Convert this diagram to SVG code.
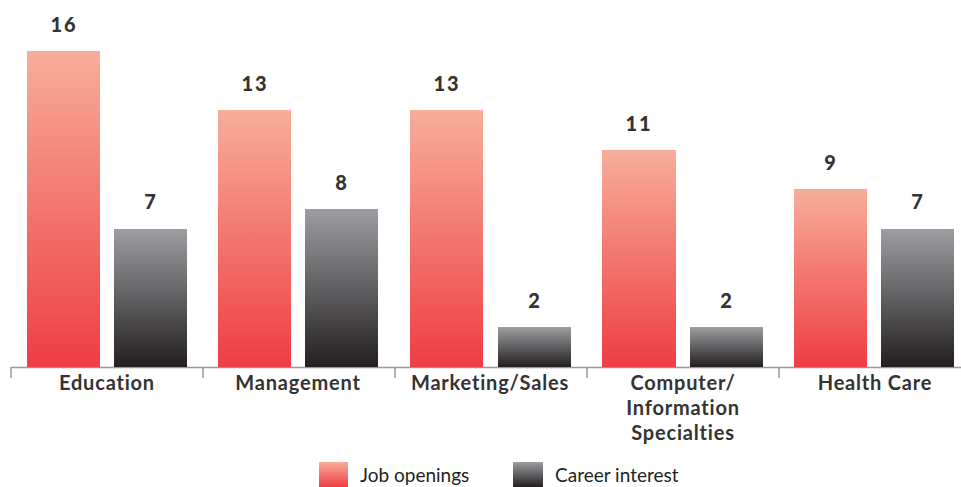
<svg xmlns="http://www.w3.org/2000/svg" width="961" height="487" viewBox="0 0 961 487">
<defs>
<linearGradient id="gRed" x1="0" y1="0" x2="0" y2="1">
<stop offset="0" stop-color="#f7ae9b"/>
<stop offset="1" stop-color="#ee3d43"/>
</linearGradient>
<linearGradient id="gGrey" x1="0" y1="0" x2="0" y2="1">
<stop offset="0" stop-color="#9d9ea2"/>
<stop offset="1" stop-color="#231f20"/>
</linearGradient>
<style>
.red{fill:url(#gRed)}
.grey{fill:url(#gGrey)}
.val{font-family:Lato,"Liberation Sans",sans-serif;font-weight:900;font-size:20px;fill:#333333;text-anchor:middle;letter-spacing:2px}
.cat{font-family:Lato,"Liberation Sans",sans-serif;font-weight:bold;font-size:20px;fill:#333333;text-anchor:middle;letter-spacing:0.8px}
.leg{font-family:Lato,"Liberation Sans",sans-serif;font-size:19px;fill:#231f20}
.axis{stroke:#999999;stroke-width:1.5;fill:none}
</style>
</defs>
<rect width="961" height="487" fill="#ffffff"/>
<g id="axis">
<path class="axis" d="M11,367.5 H961 M11,367 V378 M203,367 V378 M395,367 V378 M587,367 V378 M779,367 V378"/>
</g>
<g id="education">
<rect class="red" x="27" y="51" width="73" height="316"/>
<rect class="grey" x="114" y="229" width="73" height="138"/>
<text class="val" x="64" y="32">16</text>
<text class="val" x="151" y="209">7</text>
<text class="cat" x="107" y="390">Education</text>
</g>
<g id="management">
<rect class="red" x="218" y="110" width="73" height="257"/>
<rect class="grey" x="305" y="209" width="73" height="158"/>
<text class="val" x="255" y="91">13</text>
<text class="val" x="342" y="190">8</text>
<text class="cat" x="298" y="390">Management</text>
</g>
<g id="marketing">
<rect class="red" x="410" y="110" width="73" height="257"/>
<rect class="grey" x="498" y="327" width="73" height="40"/>
<text class="val" x="447" y="91">13</text>
<text class="val" x="535" y="308">2</text>
<text class="cat" x="490" y="390">Marketing/Sales</text>
</g>
<g id="computer">
<rect class="red" x="602" y="150" width="74" height="217"/>
<rect class="grey" x="690" y="327" width="73" height="40"/>
<text class="val" x="639" y="131">11</text>
<text class="val" x="727" y="308">2</text>
<text class="cat" x="683" y="390">Computer/</text>
<text class="cat" x="683" y="415">Information</text>
<text class="cat" x="683" y="440">Specialties</text>
</g>
<g id="healthcare">
<rect class="red" x="794" y="189" width="73" height="178"/>
<rect class="grey" x="881" y="229" width="73" height="138"/>
<text class="val" x="831" y="170">9</text>
<text class="val" x="918" y="209">7</text>
<text class="cat" x="875" y="390">Health Care</text>
</g>
<g id="legend">
<rect class="red" x="319" y="462" width="29" height="25"/>
<text class="leg" x="360" y="482">Job openings</text>
<rect class="grey" x="513" y="462" width="30" height="25"/>
<text class="leg" x="555" y="482">Career interest</text>
</g>
</svg>
